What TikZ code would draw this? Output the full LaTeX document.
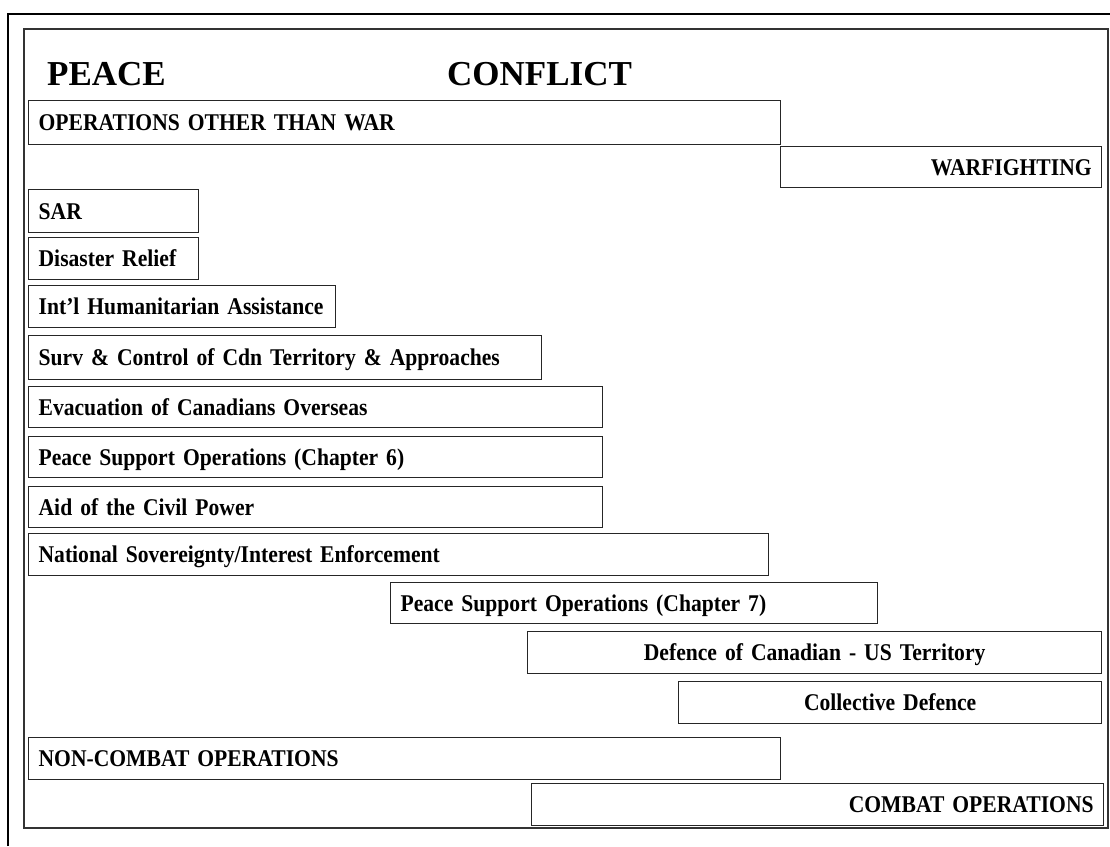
\documentclass[tikz,border=0pt]{standalone}
\usepackage{fontspec}
\newfontfamily\bandfont[FakeStretch=0.9]{Liberation Serif}
\newfontfamily\headfont{Liberation Serif}

\tikzset{
  band/.style={draw=black!85, line width=1.3pt, anchor=north west,
    inner xsep=10pt, inner ysep=0pt,
    font=\bandfont\bfseries\fontsize{24}{24}\selectfont,
    text height=16pt, text depth=0pt},
  head/.style={anchor=base west, inner sep=0pt,
    font=\headfont\bfseries\fontsize{35}{35}\selectfont},
  frame/.style={draw=black!80, line width=1.6pt},
  outer/.style={draw=black, line width=1.7pt}
}

\begin{document}
\begin{tikzpicture}[x=1pt, y=-1pt]
\useasboundingbox (0,0) rectangle (1110,846);

% page frames
\coordinate (ob) at (8,846);
\coordinate (oc) at (8,14);
\coordinate (or) at (1110,14);
\draw[outer] (ob) -- (oc) -- (or);
\draw[frame] (24,29) rectangle (1108,828);

% headings
\node[head] (peace) at (47,85) {PEACE};
\node[head] (conflict) at (447,85) {CONFLICT};

% spectrum bands
\node[band, text width=732pt, minimum height=44pt, align=left]  (ootw) at (28,100) {OPERATIONS OTHER THAN WAR};
\node[band, text width=301pt, minimum height=41pt, align=right, inner xsep=10pt] (warf) at (780,146) {WARFIGHTING};

\node[band, text width=150pt, minimum height=43pt, align=left] (sar)   at (28,189) {SAR};
\node[band, text width=150pt, minimum height=42pt, align=left] (dr)    at (28,237) {Disaster Relief};
\node[band, text width=287pt, minimum height=42pt, align=left] (iha)   at (28,285) {Int’l Humanitarian Assistance};
\node[band, text width=493pt, minimum height=44pt, align=left] (surv)  at (28,335) {Surv \& Control of Cdn Territory \& Approaches};
\node[band, text width=554pt, minimum height=41pt, align=left] (evac)  at (28,386) {Evacuation of Canadians Overseas};
\node[band, text width=554pt, minimum height=41pt, align=left] (psosix) at (28,436) {Peace Support Operations (Chapter 6)};
\node[band, text width=554pt, minimum height=41pt, align=left] (aid)   at (28,486) {Aid of the Civil Power};
\node[band, text width=720pt, minimum height=42pt, align=left] (natsov) at (28,533) {National Sovereignty/Interest Enforcement};
\node[band, text width=467pt, minimum height=41pt, align=left] (psoseven) at (390,582) {Peace Support Operations (Chapter 7)};
\node[band, text width=554pt, minimum height=42pt, align=center] (defca) at (527,631) {Defence of Canadian - US Territory};
\node[band, text width=403pt, minimum height=42pt, align=center] (coll)  at (678,681) {Collective Defence};

\node[band, text width=732pt, minimum height=42pt, align=left]  (noncombat) at (28,737) {NON-COMBAT OPERATIONS};
\node[band, text width=552pt, minimum height=42pt, align=right] (combat)    at (531,783) {COMBAT OPERATIONS};
\end{tikzpicture}
\end{document}
